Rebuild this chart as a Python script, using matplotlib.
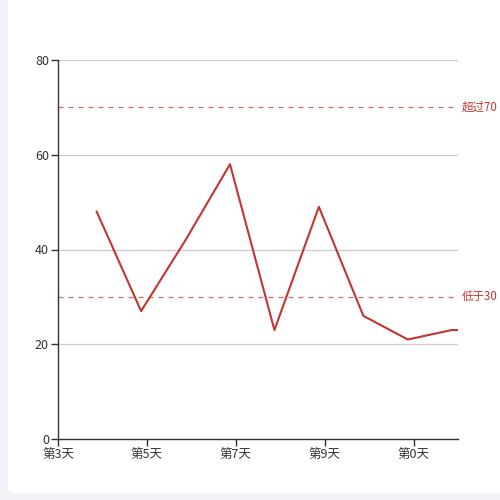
import matplotlib
matplotlib.use("Agg")
import matplotlib.pyplot as plt
from matplotlib.patches import FancyBboxPatch

plt.rcParams['font.family'] = ['Noto Sans CJK SC', 'DejaVu Sans']

# data
days = [3.87, 4.87, 5.87, 6.87, 7.87, 8.87, 9.87, 10.87, 11.86, 12.86]
values = [48, 27, 42, 58, 23, 49, 26, 21, 23, 23]
tick_pos = [3, 5, 7, 9, 11]
tick_labels = ['第3天', '第5天', '第7天', '第9天', '第0天']
mark_values = [70, 30]
mark_labels = ['超过70', '低于30']

red = '#c23531'

fig = plt.figure(figsize=(5, 5), dpi=100, facecolor='#f2f3f8')
panel = FancyBboxPatch((8 / 500, 7 / 500), 1.0, 1.0, transform=fig.transFigure,
                       boxstyle='round,pad=0,rounding_size=0.012',
                       facecolor='white', edgecolor='none', zorder=-5)
fig.patches.append(panel)

ax = fig.add_axes([58 / 500, 61 / 500, 400 / 500, 379 / 500])
ax.set_facecolor('none')

ax.plot(days, values, color=red, lw=1.5, zorder=3)

for v, lab in zip(mark_values, mark_labels):
    ax.axhline(v, color=red, lw=0.9, ls=(0, (4, 4)), alpha=0.75, zorder=2)
    ax.text(1.01, v, lab, transform=ax.get_yaxis_transform(), color=red,
            fontsize=8.3, va='center', ha='left', clip_on=False)

ax.set_xlim(3, 12)
ax.set_ylim(0, 80)
ax.set_yticks([0, 20, 40, 60, 80])
ax.set_xticks(tick_pos)
ax.set_xticklabels(tick_labels)

ax.grid(axis='y', color='#cccccc', lw=0.9)
ax.set_axisbelow(True)
for s in ['top', 'right']:
    ax.spines[s].set_visible(False)
for s in ['left', 'bottom']:
    ax.spines[s].set_color('#333333')
    ax.spines[s].set_linewidth(1)
ax.tick_params(colors='#333333', labelsize=9, length=5, width=1, pad=1.5)

fig.savefig('out.png', dpi=100, facecolor=fig.get_facecolor())
